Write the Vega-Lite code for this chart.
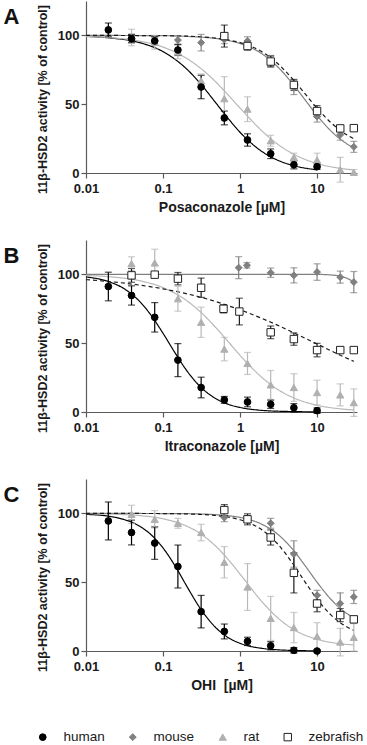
{
"$schema": "https://vega.github.io/schema/vega-lite/v6.json",
"padding": {"left": 3, "top": 1, "right": 0, "bottom": 0},
"config": {
 "font": "Liberation Sans",
 "view": {"stroke": null},
 "axis": {"grid": false, "domainColor": "#5a5a5a", "tickColor": "#5a5a5a", "domainWidth": 1.2, "tickWidth": 1.2, "labelFont": "Liberation Sans", "labelFontSize": 13, "labelFontWeight": "bold", "labelColor": "#1a1a1a", "titleFont": "Liberation Sans", "titleFontWeight": "bold", "titleColor": "#1a1a1a", "labelFlush": false, "labelOverlap": false, "tickSize": 5},
 "axisX": {"labelPadding": 4, "titleFontSize": 14, "titlePadding": 5},
 "axisY": {"labelPadding": 2, "titleFontSize": 12.5, "titlePadding": 8, "titleY": 98},
 "title": {"orient": "left", "anchor": "end", "frame": "bounds", "angle": 0, "align": "right", "baseline": "top", "offset": 1, "dy": 6, "font": "Liberation Sans", "fontSize": 22, "fontWeight": "bold", "color": "#111111"},
 "legend": {"labelFont": "Liberation Sans", "labelFontSize": 13.5, "labelColor": "#1a1a1a", "symbolStrokeWidth": 1}
},
"datasets": {
"pts": [
{"p":"A","s":"rat","c":0.039,"v":98.5,"e":6},{"p":"A","s":"rat","c":0.078,"v":95,"e":5},{"p":"A","s":"rat","c":0.156,"v":88,"e":5},{"p":"A","s":"rat","c":0.3125,"v":67,"e":5},{"p":"A","s":"rat","c":0.625,"v":54,"e":16},{"p":"A","s":"rat","c":1.25,"v":46.4,"e":9},{"p":"A","s":"rat","c":2.5,"v":23.4,"e":4},{"p":"A","s":"rat","c":5,"v":11.4,"e":3},{"p":"A","s":"rat","c":10,"v":9.4,"e":5},{"p":"A","s":"rat","c":20,"v":2.4,"e":9},{"p":"A","s":"rat","c":30,"v":0.5,"e":2},
{"p":"A","s":"mouse","c":0.039,"v":98,"e":3},{"p":"A","s":"mouse","c":0.078,"v":96,"e":3},{"p":"A","s":"mouse","c":0.156,"v":96.6,"e":3},{"p":"A","s":"mouse","c":0.3125,"v":94.7,"e":6},{"p":"A","s":"mouse","c":0.625,"v":97,"e":3},{"p":"A","s":"mouse","c":1.25,"v":96,"e":3},{"p":"A","s":"mouse","c":2.5,"v":81.4,"e":4},{"p":"A","s":"mouse","c":5,"v":62,"e":5},{"p":"A","s":"mouse","c":10,"v":41,"e":4},{"p":"A","s":"mouse","c":20,"v":27.8,"e":4},{"p":"A","s":"mouse","c":30,"v":19,"e":4},
{"p":"A","s":"human","c":0.0195,"v":104,"e":5},{"p":"A","s":"human","c":0.039,"v":97.6,"e":3},{"p":"A","s":"human","c":0.078,"v":96,"e":3},{"p":"A","s":"human","c":0.156,"v":89.4,"e":4},{"p":"A","s":"human","c":0.3125,"v":62.5,"e":8.5},{"p":"A","s":"human","c":0.625,"v":40,"e":5},{"p":"A","s":"human","c":1.25,"v":24,"e":4.5},{"p":"A","s":"human","c":2.5,"v":14,"e":3.5},{"p":"A","s":"human","c":5,"v":6,"e":3},{"p":"A","s":"human","c":10,"v":4.6,"e":2},
{"p":"A","s":"zebrafish","c":0.625,"v":99.5,"e":8},{"p":"A","s":"zebrafish","c":1.25,"v":92.3,"e":3},{"p":"A","s":"zebrafish","c":2.5,"v":81,"e":4},{"p":"A","s":"zebrafish","c":5,"v":64,"e":4},{"p":"A","s":"zebrafish","c":10,"v":45,"e":4},{"p":"A","s":"zebrafish","c":20,"v":32.4,"e":2},{"p":"A","s":"zebrafish","c":30,"v":32.6,"e":1.5},
{"p":"B","s":"rat","c":0.039,"v":107.8,"e":5},{"p":"B","s":"rat","c":0.078,"v":108.3,"e":10},{"p":"B","s":"rat","c":0.156,"v":82.3,"e":9},{"p":"B","s":"rat","c":0.3125,"v":65.2,"e":11},{"p":"B","s":"rat","c":0.625,"v":45.7,"e":8.5},{"p":"B","s":"rat","c":1.25,"v":35.3,"e":8},{"p":"B","s":"rat","c":2.5,"v":19.7,"e":10.5},{"p":"B","s":"rat","c":5,"v":17.8,"e":10},{"p":"B","s":"rat","c":10,"v":14.1,"e":9},{"p":"B","s":"rat","c":20,"v":12.4,"e":8},{"p":"B","s":"rat","c":30,"v":6.8,"e":10},
{"p":"B","s":"mouse","c":0.96,"v":104.9,"e":8},{"p":"B","s":"mouse","c":1.23,"v":106.6,"e":2},{"p":"B","s":"mouse","c":2.5,"v":101.2,"e":3.4},{"p":"B","s":"mouse","c":5,"v":99.3,"e":5.5},{"p":"B","s":"mouse","c":10,"v":101.7,"e":6},{"p":"B","s":"mouse","c":20,"v":98,"e":4.4},{"p":"B","s":"mouse","c":30,"v":94.4,"e":7.7},
{"p":"B","s":"human","c":0.0195,"v":91.2,"e":10.4},{"p":"B","s":"human","c":0.039,"v":84.7,"e":7},{"p":"B","s":"human","c":0.078,"v":68.8,"e":10.7},{"p":"B","s":"human","c":0.156,"v":37.7,"e":12},{"p":"B","s":"human","c":0.3125,"v":17.8,"e":7.5},{"p":"B","s":"human","c":0.625,"v":8.8,"e":2.5},{"p":"B","s":"human","c":1.25,"v":7.3,"e":3.5},{"p":"B","s":"human","c":2.5,"v":5.6,"e":3},{"p":"B","s":"human","c":5,"v":3.1,"e":3},{"p":"B","s":"human","c":10,"v":1,"e":2},
{"p":"B","s":"zebrafish","c":0.039,"v":99.3,"e":5},{"p":"B","s":"zebrafish","c":0.078,"v":99.8,"e":2},{"p":"B","s":"zebrafish","c":0.156,"v":96.9,"e":4.5},{"p":"B","s":"zebrafish","c":0.3125,"v":90.3,"e":7},{"p":"B","s":"zebrafish","c":0.61,"v":75,"e":3},{"p":"B","s":"zebrafish","c":0.98,"v":73,"e":9.7},{"p":"B","s":"zebrafish","c":2.5,"v":57.9,"e":4.6},{"p":"B","s":"zebrafish","c":5,"v":53,"e":4.5},{"p":"B","s":"zebrafish","c":10,"v":45,"e":4.9},{"p":"B","s":"zebrafish","c":20,"v":45,"e":2},{"p":"B","s":"zebrafish","c":30,"v":45,"e":1},
{"p":"C","s":"rat","c":0.039,"v":99.3,"e":6.6},{"p":"C","s":"rat","c":0.078,"v":95.7,"e":6.3},{"p":"C","s":"rat","c":0.156,"v":92.8,"e":3.6},{"p":"C","s":"rat","c":0.3125,"v":86.1,"e":6},{"p":"C","s":"rat","c":0.625,"v":64.5,"e":11.4},{"p":"C","s":"rat","c":1.25,"v":46.5,"e":17},{"p":"C","s":"rat","c":2.5,"v":23.7,"e":16},{"p":"C","s":"rat","c":5,"v":17,"e":11},{"p":"C","s":"rat","c":10,"v":10.6,"e":10},{"p":"C","s":"rat","c":20,"v":6.5,"e":10},{"p":"C","s":"rat","c":30,"v":9.9,"e":10},
{"p":"C","s":"mouse","c":0.625,"v":97,"e":3},{"p":"C","s":"mouse","c":1.25,"v":96,"e":2},{"p":"C","s":"mouse","c":2.5,"v":92.8,"e":3.6},{"p":"C","s":"mouse","c":5,"v":70.5,"e":9.6},{"p":"C","s":"mouse","c":10,"v":40.5,"e":3.6},{"p":"C","s":"mouse","c":20,"v":34.5,"e":7.8},{"p":"C","s":"mouse","c":30,"v":39.3,"e":4.8},
{"p":"C","s":"human","c":0.0195,"v":94.5,"e":13.8},{"p":"C","s":"human","c":0.039,"v":86.1,"e":9},{"p":"C","s":"human","c":0.078,"v":78.4,"e":11.8},{"p":"C","s":"human","c":0.156,"v":61.4,"e":15.6},{"p":"C","s":"human","c":0.3125,"v":28.6,"e":11.8},{"p":"C","s":"human","c":0.625,"v":14.2,"e":5.4},{"p":"C","s":"human","c":1.25,"v":7,"e":3},{"p":"C","s":"human","c":2.5,"v":3.8,"e":3},{"p":"C","s":"human","c":5,"v":0.5,"e":2},{"p":"C","s":"human","c":10,"v":0,"e":1},
{"p":"C","s":"zebrafish","c":0.625,"v":102.4,"e":4},{"p":"C","s":"zebrafish","c":1.25,"v":95.7,"e":4},{"p":"C","s":"zebrafish","c":2.5,"v":82.5,"e":5.5},{"p":"C","s":"zebrafish","c":5,"v":56.8,"e":14.6},{"p":"C","s":"zebrafish","c":10,"v":34.5,"e":6},{"p":"C","s":"zebrafish","c":20,"v":26.1,"e":4.8},{"p":"C","s":"zebrafish","c":30,"v":23,"e":2}
],
"crv": [
{"p":"A","s":"human","c":0.01,"v":99.3},{"p":"A","s":"human","c":0.02,"v":98.2},{"p":"A","s":"human","c":0.05,"v":94.7},{"p":"A","s":"human","c":0.1,"v":88.2},{"p":"A","s":"human","c":0.2,"v":75.9},{"p":"A","s":"human","c":0.3,"v":65.5},{"p":"A","s":"human","c":0.5,"v":50},{"p":"A","s":"human","c":0.7,"v":39.7},{"p":"A","s":"human","c":1,"v":29.6},{"p":"A","s":"human","c":2,"v":15},{"p":"A","s":"human","c":3,"v":9.6},{"p":"A","s":"human","c":5,"v":5.3},{"p":"A","s":"human","c":10,"v":2.3},
{"p":"A","s":"rat","c":0.01,"v":99.2},{"p":"A","s":"rat","c":0.02,"v":98.4},{"p":"A","s":"rat","c":0.05,"v":95.8},{"p":"A","s":"rat","c":0.1,"v":91.5},{"p":"A","s":"rat","c":0.2,"v":83.5},{"p":"A","s":"rat","c":0.3,"v":76.6},{"p":"A","s":"rat","c":0.5,"v":65.4},{"p":"A","s":"rat","c":0.7,"v":56.7},{"p":"A","s":"rat","c":1,"v":47.2},{"p":"A","s":"rat","c":2,"v":29.7},{"p":"A","s":"rat","c":3,"v":21.4},{"p":"A","s":"rat","c":5,"v":13.6},{"p":"A","s":"rat","c":10,"v":6.9},{"p":"A","s":"rat","c":20,"v":3.4},{"p":"A","s":"rat","c":30,"v":2.2},
{"p":"A","s":"mouse","c":0.01,"v":100},{"p":"A","s":"mouse","c":0.1,"v":99.8},{"p":"A","s":"mouse","c":0.2,"v":99.3},{"p":"A","s":"mouse","c":0.3,"v":98.8},{"p":"A","s":"mouse","c":0.5,"v":97.7},{"p":"A","s":"mouse","c":0.7,"v":96.3},{"p":"A","s":"mouse","c":1,"v":94.1},{"p":"A","s":"mouse","c":2,"v":86},{"p":"A","s":"mouse","c":3,"v":77.8},{"p":"A","s":"mouse","c":5,"v":63.8},{"p":"A","s":"mouse","c":7,"v":53.1},{"p":"A","s":"mouse","c":10,"v":41.9},{"p":"A","s":"mouse","c":15,"v":30.8},{"p":"A","s":"mouse","c":20,"v":24.6},{"p":"A","s":"mouse","c":30,"v":18.2},
{"p":"A","s":"zebrafish","c":0.01,"v":100},{"p":"A","s":"zebrafish","c":0.1,"v":99.8},{"p":"A","s":"zebrafish","c":0.2,"v":99.5},{"p":"A","s":"zebrafish","c":0.3,"v":99},{"p":"A","s":"zebrafish","c":0.5,"v":97.9},{"p":"A","s":"zebrafish","c":0.7,"v":96.7},{"p":"A","s":"zebrafish","c":1,"v":94.8},{"p":"A","s":"zebrafish","c":2,"v":87.5},{"p":"A","s":"zebrafish","c":3,"v":80.1},{"p":"A","s":"zebrafish","c":5,"v":67.3},{"p":"A","s":"zebrafish","c":7,"v":57.5},{"p":"A","s":"zebrafish","c":10,"v":47.1},{"p":"A","s":"zebrafish","c":15,"v":36.8},{"p":"A","s":"zebrafish","c":20,"v":30.9},{"p":"A","s":"zebrafish","c":30,"v":24.8},
{"p":"B","s":"human","c":0.01,"v":98.2},{"p":"B","s":"human","c":0.02,"v":94.6},{"p":"B","s":"human","c":0.03,"v":90.2},{"p":"B","s":"human","c":0.05,"v":80.2},{"p":"B","s":"human","c":0.07,"v":70.3},{"p":"B","s":"human","c":0.1,"v":57.2},{"p":"B","s":"human","c":0.15,"v":41.2},{"p":"B","s":"human","c":0.2,"v":30.6},{"p":"B","s":"human","c":0.3,"v":18.8},{"p":"B","s":"human","c":0.5,"v":9.3},{"p":"B","s":"human","c":0.7,"v":5.6},{"p":"B","s":"human","c":1,"v":3.3},{"p":"B","s":"human","c":2,"v":1.1},{"p":"B","s":"human","c":3,"v":0.6},{"p":"B","s":"human","c":5,"v":0.3},{"p":"B","s":"human","c":10,"v":0.1},
{"p":"B","s":"rat","c":0.01,"v":99.2},{"p":"B","s":"rat","c":0.02,"v":98.3},{"p":"B","s":"rat","c":0.05,"v":95.4},{"p":"B","s":"rat","c":0.1,"v":90.4},{"p":"B","s":"rat","c":0.2,"v":81.2},{"p":"B","s":"rat","c":0.3,"v":73.2},{"p":"B","s":"rat","c":0.5,"v":60.5},{"p":"B","s":"rat","c":0.7,"v":51.2},{"p":"B","s":"rat","c":1,"v":41.2},{"p":"B","s":"rat","c":2,"v":24.3},{"p":"B","s":"rat","c":3,"v":16.8},{"p":"B","s":"rat","c":5,"v":10.2},{"p":"B","s":"rat","c":10,"v":4.9},{"p":"B","s":"rat","c":20,"v":2.3},{"p":"B","s":"rat","c":30,"v":1.5},
{"p":"B","s":"mouse","c":0.01,"v":100},{"p":"B","s":"mouse","c":1,"v":100},{"p":"B","s":"mouse","c":10,"v":100},{"p":"B","s":"mouse","c":15,"v":99.6},{"p":"B","s":"mouse","c":20,"v":98.8},{"p":"B","s":"mouse","c":25,"v":96.9},{"p":"B","s":"mouse","c":30,"v":94.6},
{"p":"B","s":"zebrafish","c":0.01,"v":96.2},{"p":"B","s":"zebrafish","c":0.02,"v":94.8},{"p":"B","s":"zebrafish","c":0.05,"v":92.2},{"p":"B","s":"zebrafish","c":0.1,"v":89.5},{"p":"B","s":"zebrafish","c":0.2,"v":86},{"p":"B","s":"zebrafish","c":0.3,"v":83.6},{"p":"B","s":"zebrafish","c":0.5,"v":80},{"p":"B","s":"zebrafish","c":0.7,"v":77.3},{"p":"B","s":"zebrafish","c":1,"v":74.3},{"p":"B","s":"zebrafish","c":2,"v":67.6},{"p":"B","s":"zebrafish","c":3,"v":63.3},{"p":"B","s":"zebrafish","c":5,"v":57.5},{"p":"B","s":"zebrafish","c":10,"v":49.4},{"p":"B","s":"zebrafish","c":20,"v":41.3},{"p":"B","s":"zebrafish","c":30,"v":36.8},
{"p":"C","s":"human","c":0.01,"v":99.3},{"p":"C","s":"human","c":0.02,"v":97.9},{"p":"C","s":"human","c":0.03,"v":95.8},{"p":"C","s":"human","c":0.05,"v":90.6},{"p":"C","s":"human","c":0.07,"v":84.5},{"p":"C","s":"human","c":0.1,"v":74.9},{"p":"C","s":"human","c":0.15,"v":60},{"p":"C","s":"human","c":0.2,"v":47.8},{"p":"C","s":"human","c":0.3,"v":31.5},{"p":"C","s":"human","c":0.5,"v":16.2},{"p":"C","s":"human","c":0.7,"v":9.8},{"p":"C","s":"human","c":1,"v":5.6},{"p":"C","s":"human","c":2,"v":1.8},{"p":"C","s":"human","c":3,"v":0.9},{"p":"C","s":"human","c":5,"v":0.4},{"p":"C","s":"human","c":10,"v":0.1},
{"p":"C","s":"rat","c":0.01,"v":99.8},{"p":"C","s":"rat","c":0.02,"v":99.5},{"p":"C","s":"rat","c":0.05,"v":98.4},{"p":"C","s":"rat","c":0.1,"v":96.1},{"p":"C","s":"rat","c":0.2,"v":90.9},{"p":"C","s":"rat","c":0.3,"v":85.6},{"p":"C","s":"rat","c":0.5,"v":75.4},{"p":"C","s":"rat","c":0.7,"v":66.6},{"p":"C","s":"rat","c":1,"v":55.9},{"p":"C","s":"rat","c":2,"v":34.8},{"p":"C","s":"rat","c":3,"v":24.7},{"p":"C","s":"rat","c":5,"v":15.5},{"p":"C","s":"rat","c":10,"v":8.5},{"p":"C","s":"rat","c":20,"v":5.3},{"p":"C","s":"rat","c":30,"v":4.4},
{"p":"C","s":"mouse","c":0.01,"v":100},{"p":"C","s":"mouse","c":0.1,"v":99.9},{"p":"C","s":"mouse","c":0.2,"v":99.8},{"p":"C","s":"mouse","c":0.3,"v":99.6},{"p":"C","s":"mouse","c":0.5,"v":99},{"p":"C","s":"mouse","c":0.7,"v":98.3},{"p":"C","s":"mouse","c":1,"v":97.1},{"p":"C","s":"mouse","c":2,"v":91.6},{"p":"C","s":"mouse","c":3,"v":85.4},{"p":"C","s":"mouse","c":5,"v":72.8},{"p":"C","s":"mouse","c":7,"v":62},{"p":"C","s":"mouse","c":10,"v":50},{"p":"C","s":"mouse","c":15,"v":37.8},{"p":"C","s":"mouse","c":20,"v":30.9},{"p":"C","s":"mouse","c":30,"v":24.1},
{"p":"C","s":"zebrafish","c":0.01,"v":100},{"p":"C","s":"zebrafish","c":0.1,"v":99.9},{"p":"C","s":"zebrafish","c":0.2,"v":99.6},{"p":"C","s":"zebrafish","c":0.3,"v":99.3},{"p":"C","s":"zebrafish","c":0.5,"v":98.4},{"p":"C","s":"zebrafish","c":0.7,"v":97.3},{"p":"C","s":"zebrafish","c":1,"v":95.4},{"p":"C","s":"zebrafish","c":2,"v":87.4},{"p":"C","s":"zebrafish","c":3,"v":78.5},{"p":"C","s":"zebrafish","c":5,"v":62.4},{"p":"C","s":"zebrafish","c":7,"v":50.1},{"p":"C","s":"zebrafish","c":10,"v":37.8},{"p":"C","s":"zebrafish","c":15,"v":26.4},{"p":"C","s":"zebrafish","c":20,"v":20.5},{"p":"C","s":"zebrafish","c":30,"v":15}
]
},
"spacing": 26,
"vconcat": [
{"title": "A", "width": 271, "height": 172,
 "layer": [
  {"data": {"name": "crv"}, "transform": [{"filter": "datum.p == 'A'"}],
   "mark": {"type": "line", "interpolate": "monotone", "strokeWidth": 1.2},
   "encoding": {
    "x": {"field": "c", "type": "quantitative", "title": "Posaconazole [µM]", "scale": {"type": "log", "domain": [0.01, 33], "nice": false}, "axis": {"values": [0.01, 0.1, 1, 10], "format": "~g"}},
    "y": {"field": "v", "type": "quantitative", "title": "11β-HSD2 activity [% of control]", "scale": {"domain": [0, 125], "nice": false, "zero": false}, "axis": {"values": [0, 50, 100]}},
    "color": {"field": "s", "type": "nominal", "scale": {"domain": ["zebrafish", "rat", "mouse", "human"], "range": ["#1a1a1a", "#b8b8b8", "#808080", "#000000"]}, "legend": null},
    "strokeDash": {"field": "s", "type": "nominal", "scale": {"domain": ["zebrafish", "rat", "mouse", "human"], "range": [[4, 3], [1, 0], [1, 0], [1, 0]]}, "legend": null}}},
  {"data": {"name": "pts"}, "transform": [{"filter": "datum.p == 'A'"}],
   "mark": {"type": "errorbar", "ticks": {"size": 7}, "thickness": 1.2},
   "encoding": {
    "x": {"field": "c", "type": "quantitative", "title": "Posaconazole [µM]"},
    "y": {"field": "v", "type": "quantitative", "title": "11β-HSD2 activity [% of control]"},
    "yError": {"field": "e"},
    "color": {"field": "s", "type": "nominal", "legend": null}}},
  {"data": {"name": "pts"}, "transform": [{"filter": "datum.p == 'A'"}],
   "mark": {"type": "point", "filled": true, "strokeWidth": 1, "opacity": 1},
   "encoding": {
    "x": {"field": "c", "type": "quantitative", "title": "Posaconazole [µM]"},
    "y": {"field": "v", "type": "quantitative", "title": "11β-HSD2 activity [% of control]"},
    "shape": {"field": "s", "type": "nominal", "title": null, "scale": {"domain": ["human", "mouse", "rat", "zebrafish"], "range": ["circle", "diamond", "triangle-up", "square"]}, "legend": {"orient": "none", "legendX": -50, "legendY": 729, "direction": "horizontal", "title": null, "labelFontSize": 13.5, "columnPadding": 21, "labelOffset": 14}},
    "fill": {"field": "s", "type": "nominal", "title": null, "scale": {"domain": ["human", "mouse", "rat", "zebrafish"], "range": ["#000000", "#808080", "#b0b0b0", "#ffffff"]}},
    "stroke": {"field": "s", "type": "nominal", "title": null, "scale": {"domain": ["human", "mouse", "rat", "zebrafish"], "range": ["#000000", "#808080", "#b0b0b0", "#222222"]}},
    "size": {"field": "s", "type": "nominal", "title": null, "scale": {"domain": ["human", "mouse", "rat", "zebrafish"], "range": [45, 55, 55, 72]}}}}
 ]},
{"title": "B", "width": 271, "height": 172,
 "layer": [
  {"data": {"name": "crv"}, "transform": [{"filter": "datum.p == 'B'"}],
   "mark": {"type": "line", "interpolate": "monotone", "strokeWidth": 1.2},
   "encoding": {
    "x": {"field": "c", "type": "quantitative", "title": "Itraconazole [µM]", "scale": {"type": "log", "domain": [0.01, 33], "nice": false}, "axis": {"values": [0.01, 0.1, 1, 10], "format": "~g"}},
    "y": {"field": "v", "type": "quantitative", "title": "11β-HSD2 activity [% of control]", "scale": {"domain": [0, 125], "nice": false, "zero": false}, "axis": {"values": [0, 50, 100]}},
    "color": {"field": "s", "type": "nominal", "legend": null},
    "strokeDash": {"field": "s", "type": "nominal", "legend": null}}},
  {"data": {"name": "pts"}, "transform": [{"filter": "datum.p == 'B'"}],
   "mark": {"type": "errorbar", "ticks": {"size": 7}, "thickness": 1.2},
   "encoding": {
    "x": {"field": "c", "type": "quantitative", "title": "Itraconazole [µM]"},
    "y": {"field": "v", "type": "quantitative", "title": "11β-HSD2 activity [% of control]"},
    "yError": {"field": "e"},
    "color": {"field": "s", "type": "nominal", "legend": null}}},
  {"data": {"name": "pts"}, "transform": [{"filter": "datum.p == 'B'"}],
   "mark": {"type": "point", "filled": true, "strokeWidth": 1, "opacity": 1},
   "encoding": {
    "x": {"field": "c", "type": "quantitative", "title": "Itraconazole [µM]"},
    "y": {"field": "v", "type": "quantitative", "title": "11β-HSD2 activity [% of control]"},
    "shape": {"field": "s", "type": "nominal", "title": null},
    "fill": {"field": "s", "type": "nominal", "title": null},
    "stroke": {"field": "s", "type": "nominal", "title": null},
    "size": {"field": "s", "type": "nominal", "title": null}}}
 ]},
{"title": "C", "width": 271, "height": 172,
 "layer": [
  {"data": {"name": "crv"}, "transform": [{"filter": "datum.p == 'C'"}],
   "mark": {"type": "line", "interpolate": "monotone", "strokeWidth": 1.2},
   "encoding": {
    "x": {"field": "c", "type": "quantitative", "title": "OHI\u00a0 [µM]", "scale": {"type": "log", "domain": [0.01, 33], "nice": false}, "axis": {"values": [0.01, 0.1, 1, 10], "format": "~g"}},
    "y": {"field": "v", "type": "quantitative", "title": "11β-HSD2 activity [% of control]", "scale": {"domain": [0, 125], "nice": false, "zero": false}, "axis": {"values": [0, 50, 100]}},
    "color": {"field": "s", "type": "nominal", "legend": null},
    "strokeDash": {"field": "s", "type": "nominal", "legend": null}}},
  {"data": {"name": "pts"}, "transform": [{"filter": "datum.p == 'C'"}],
   "mark": {"type": "errorbar", "ticks": {"size": 7}, "thickness": 1.2},
   "encoding": {
    "x": {"field": "c", "type": "quantitative", "title": "OHI\u00a0 [µM]"},
    "y": {"field": "v", "type": "quantitative", "title": "11β-HSD2 activity [% of control]"},
    "yError": {"field": "e"},
    "color": {"field": "s", "type": "nominal", "legend": null}}},
  {"data": {"name": "pts"}, "transform": [{"filter": "datum.p == 'C'"}],
   "mark": {"type": "point", "filled": true, "strokeWidth": 1, "opacity": 1},
   "encoding": {
    "x": {"field": "c", "type": "quantitative", "title": "OHI\u00a0 [µM]"},
    "y": {"field": "v", "type": "quantitative", "title": "11β-HSD2 activity [% of control]"},
    "shape": {"field": "s", "type": "nominal", "title": null},
    "fill": {"field": "s", "type": "nominal", "title": null},
    "stroke": {"field": "s", "type": "nominal", "title": null},
    "size": {"field": "s", "type": "nominal", "title": null}}}
 ]}
]
}
